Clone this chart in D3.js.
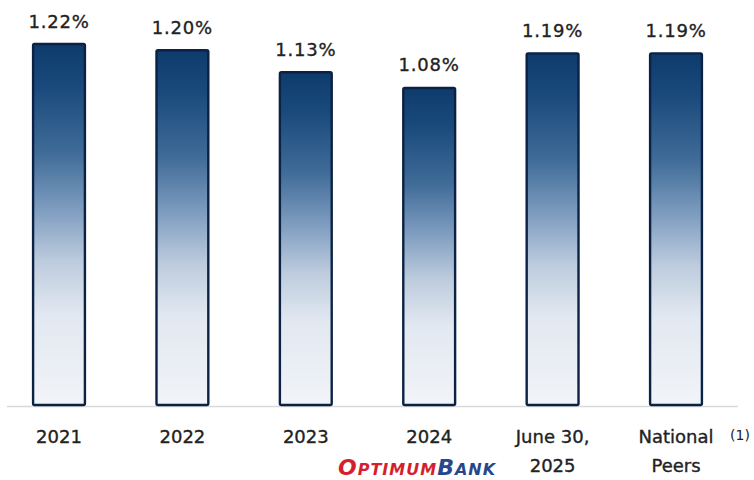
<!DOCTYPE html>
<html>
<head>
<meta charset="utf-8">
<script src="https://cdn.jsdelivr.net/npm/d3@7"></script>
<style>
  html, body { margin: 0; padding: 0; background: #ffffff; }
  svg { display: block; }
</style>
</head>
<body>
<div id="chart"></div>
<script>
// Efficiency ratio by period vs. national peers
const categories = ["2021", "2022", "2023", "2024", "June 30,\n2025", "National\nPeers"];
const values = [1.22, 1.20, 1.13, 1.08, 1.19, 1.19];
const valueLabels = ["1.22%", "1.20%", "1.13%", "1.08%", "1.19%", "1.19%"];

const width = 754, height = 480;
const baseY = 405;
const textColor = "#222222";

const svg = d3.select("#chart").append("svg")
  .attr("width", width).attr("height", height);

const defs = svg.append("defs");
const grad = defs.append("linearGradient")
  .attr("id", "barFill")
  .attr("x1", 0).attr("y1", 0).attr("x2", 0).attr("y2", 1);
[
  [0.00, "#0d3b6c"],
  [0.12, "#1a4a7c"],
  [0.30, "#3f6b97"],
  [0.46, "#7f9dc0"],
  [0.60, "#bccbdd"],
  [0.75, "#e2e8f1"],
  [1.00, "#f1f4f8"]
].forEach(([o, c]) => grad.append("stop").attr("offset", o).attr("stop-color", c));

const x = d3.scaleBand()
  .domain(categories)
  .range([-2.7, 737.7])
  .paddingInner(0.58)
  .paddingOuter(0.29);

const y = d3.scaleLinear()
  .domain([0.07, 1.22])
  .range([baseY, 44]);

// baseline
svg.append("line")
  .attr("x1", 7).attr("x2", 738)
  .attr("y1", baseY + 1.5).attr("y2", baseY + 1.5)
  .attr("stroke", "#d9d9d9").attr("stroke-width", 1.5);

// bars
svg.selectAll("rect.bar")
  .data(values)
  .join("rect")
  .attr("class", "bar")
  .attr("x", (d, i) => x(categories[i]))
  .attr("width", x.bandwidth())
  .attr("y", d => y(d))
  .attr("height", d => baseY - y(d))
  .attr("rx", 1.5)
  .attr("fill", "url(#barFill)")
  .attr("stroke", "#0b2244")
  .attr("stroke-width", 2.4);

// value labels
svg.selectAll("text.val")
  .data(values)
  .join("text")
  .attr("class", "val")
  .attr("x", (d, i) => x(categories[i]) + x.bandwidth() / 2)
  .attr("y", d => y(d) - 16.5)
  .attr("text-anchor", "middle")
  .attr("font-family", "DejaVu Sans, sans-serif")
  .attr("font-size", 18)
  .attr("letter-spacing", 0.8)
  .attr("fill", textColor)
  .attr("stroke", textColor)
  .attr("stroke-width", 0.35)
  .text((d, i) => valueLabels[i]);

// category labels
const catG = svg.selectAll("text.cat")
  .data(categories)
  .join("text")
  .attr("class", "cat")
  .attr("x", d => x(d) + x.bandwidth() / 2)
  .attr("y", 443)
  .attr("text-anchor", "middle")
  .attr("font-family", "DejaVu Sans, sans-serif")
  .attr("font-size", 18)
  .attr("fill", textColor)
  .attr("stroke", textColor)
  .attr("stroke-width", 0.35);
catG.each(function (d) {
  const lines = d.split("\n");
  const t = d3.select(this);
  lines.forEach((ln, k) => {
    t.append("tspan")
      .attr("x", x(d) + x.bandwidth() / 2)
      .attr("dy", k === 0 ? 0 : 29)
      .text(ln);
  });
});

// footnote marker
svg.append("text")
  .attr("x", 740).attr("y", 440)
  .attr("text-anchor", "middle")
  .attr("font-family", "DejaVu Sans, sans-serif")
  .attr("font-size", 14)
  .attr("fill", textColor)
  .text("(1)");

// bank wordmark
const logo = svg.append("text")
  .attr("x", 338).attr("y", 475)
  .attr("font-family", "DejaVu Sans, sans-serif")
  .attr("font-weight", "bold")
  .attr("font-style", "italic")
  .attr("letter-spacing", 1)
  .attr("fill", "#d41f2f");
logo.append("tspan").attr("font-size", 22).text("O");
logo.append("tspan").attr("font-size", 16).text("PTIMUM");
logo.append("tspan").attr("font-size", 22).attr("fill", "#27478c").text("B");
logo.append("tspan").attr("font-size", 16).attr("fill", "#27478c").text("ANK");
</script>
</body>
</html>
